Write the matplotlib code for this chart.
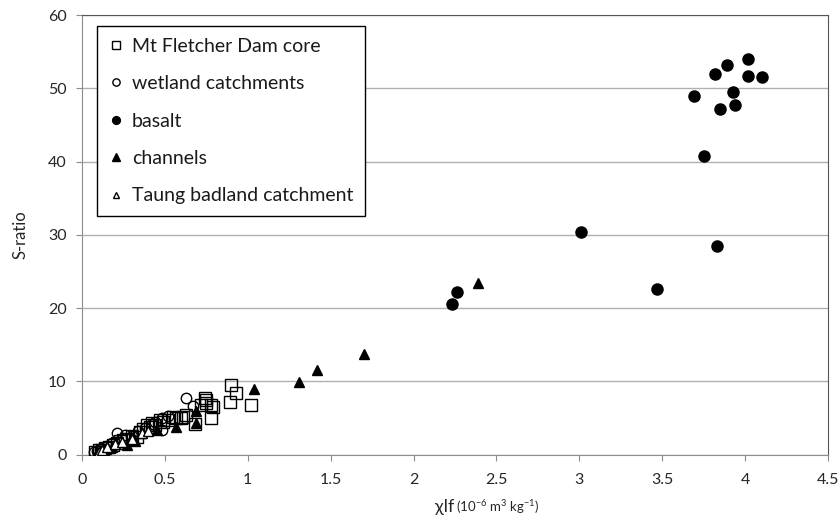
import numpy as np
import matplotlib
matplotlib.use('Agg')
import matplotlib.pyplot as plt

plt.rcParams['font.family'] = ['Lato', 'DejaVu Sans']
plt.rcParams['mathtext.fontset'] = 'custom'
plt.rcParams['mathtext.rm'] = 'Lato'

# Mt Fletcher Dam core (open squares)
fletcher_x = [0.08, 0.10, 0.12, 0.14, 0.16, 0.19, 0.21, 0.23, 0.25, 0.27, 0.30, 0.33, 0.35,
              0.37, 0.39, 0.41, 0.42, 0.44, 0.47, 0.49, 0.52, 0.55, 0.57, 0.60, 0.61, 0.63,
              0.68, 0.72, 0.74, 0.75, 0.75, 0.78, 0.78, 0.79, 0.89, 0.90, 0.93, 1.02]
fletcher_y = [0.4, 0.6, 0.65, 0.9, 1.0, 1.3, 1.6, 1.8, 2.0, 2.2, 2.5, 2.45, 3.1,
              3.5, 4.0, 3.8, 4.3, 4.1, 4.7, 4.4, 4.7, 5.2, 5.0, 4.95, 5.2, 5.4,
              4.2, 6.8, 7.7, 7.0, 7.4, 6.8, 4.95, 6.5, 7.2, 9.5, 8.4, 6.8]

# wetland catchments (open circles)
wetland_x = [0.07, 0.09, 0.11, 0.13, 0.15, 0.18, 0.21, 0.24, 0.26, 0.30, 0.34, 0.38,
             0.42, 0.44, 0.48, 0.48, 0.52, 0.63, 0.67]
wetland_y = [0.3, 0.5, 0.8, 1.0, 1.2, 1.6, 3.0, 2.2, 2.7, 2.6, 3.2, 3.6,
             4.2, 4.5, 5.0, 3.4, 5.3, 7.7, 6.7]

# basalt (filled circles)
basalt_x = [2.23, 2.26, 3.01, 3.47, 3.69, 3.75, 3.82, 3.83, 3.85, 3.89, 3.93, 3.94,
            4.02, 4.02, 4.10]
basalt_y = [20.6, 22.2, 30.4, 22.6, 49.0, 40.8, 51.9, 28.5, 47.2, 53.2, 49.5, 47.7,
            54.0, 51.7, 51.6]

# channels (filled triangles)
channels_x = [0.09, 0.13, 0.18, 0.27, 0.32, 0.45, 0.57, 0.69, 0.69, 1.04, 1.31, 1.42,
              1.70, 2.39]
channels_y = [0.3, 0.6, 1.0, 1.3, 1.8, 3.3, 3.8, 4.3, 5.9, 8.9, 9.9, 11.5,
              13.8, 23.4]

# Taung badland catchment (open triangles)
taung_x = [0.10, 0.12, 0.15, 0.20, 0.24, 0.30, 0.36, 0.40]
taung_y = [0.4, 0.6, 1.0, 1.4, 1.7, 2.1, 2.9, 3.2]

fig = plt.figure(figsize=(8.4, 5.22), dpi=100)
ax = fig.add_axes([0.0976, 0.129, 0.888, 0.842])

ax.plot(fletcher_x, fletcher_y, 's', ms=8.5, mfc='none', mec='black', mew=1.0,
        label='Mt Fletcher Dam core', zorder=3)
ax.plot(wetland_x, wetland_y, 'o', ms=7.5, mfc='none', mec='black', mew=1.0,
        label='wetland catchments', zorder=3)
ax.plot(basalt_x, basalt_y, 'o', ms=8, color='black', label='basalt', zorder=3)
ax.plot(channels_x, channels_y, '^', ms=7.5, color='black', label='channels', zorder=3)
ax.plot(taung_x, taung_y, '^', ms=7, mfc='white', mec='black', mew=1.0,
        label='Taung badland catchment', zorder=3)

ax.set_xlim(0, 4.5)
ax.set_ylim(0, 60)
ax.set_xticks(np.arange(0, 4.51, 0.5))
ax.set_xticklabels(['0', '0.5', '1', '1.5', '2', '2.5', '3', '3.5', '4', '4.5'])
ax.set_yticks(np.arange(0, 61, 10))
ax.yaxis.grid(True, color='#b0b0b0', lw=1.0)
ax.set_axisbelow(True)

for s in ['left', 'bottom']:
    ax.spines[s].set_color('#8c8c8c')
for s in ['top', 'right']:
    ax.spines[s].set_color('#555555')
ax.tick_params(axis='both', direction='out', length=4, color='#8c8c8c',
               labelsize=11.5, labelcolor='#262626', pad=7)
ax.tick_params(axis='x', pad=9)

ax.set_ylabel('S-ratio', fontsize=12, color='#262626', labelpad=14)
ax.text(0.499, -0.12, 'χlf', transform=ax.transAxes, ha='right', va='center',
        fontsize=13, color='#262626')
ax.text(0.501, -0.12, r'(10$^{-6}$ m$^{3}$ kg$^{-1}$)', transform=ax.transAxes,
        ha='left', va='center', fontsize=9.5, color='#262626')

leg = ax.legend(loc='upper left', bbox_to_anchor=(0.02, 0.975), borderaxespad=0,
                fontsize=14, markerscale=0.7, handlelength=0.8, handletextpad=0.4,
                labelspacing=1.05, borderpad=0.6, fancybox=False, framealpha=1,
                edgecolor='black', numpoints=1)
leg.get_frame().set_linewidth(1.0)
for t in leg.get_texts():
    t.set_color('#1a1a1a')

fig.savefig('out.png', dpi=100)
